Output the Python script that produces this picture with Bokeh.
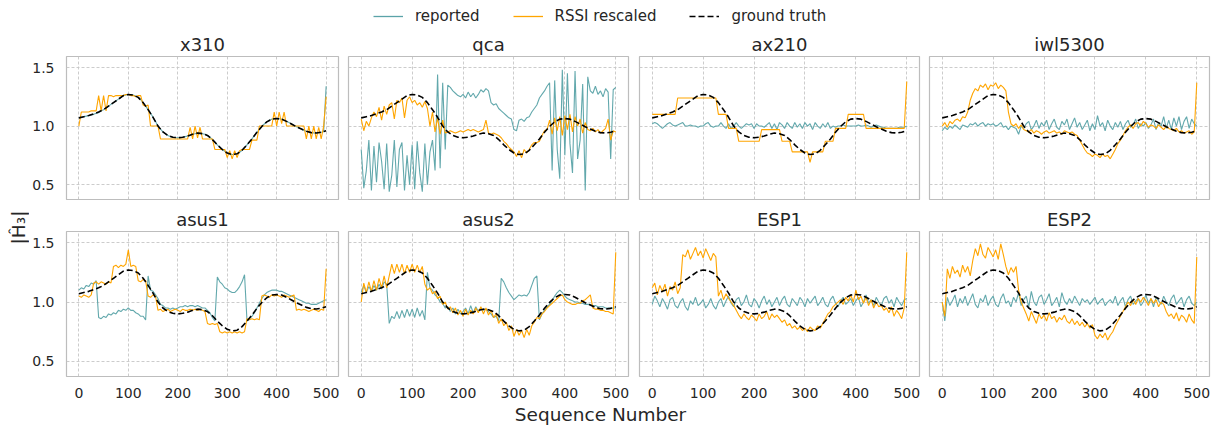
import math
from bokeh.plotting import figure
from bokeh.layouts import column, row
from bokeh.models import Range1d, Legend, LegendItem, Label, FixedTicker, PrintfTickFormatter
from bokeh.embed import file_html
from bokeh.resources import INLINE

# sequence numbers: noisy device series sampled every 5, ground truth every 10
seq5 = list(range(0, 501, 5))
seq10 = list(range(0, 501, 10))

x_ticks = [0, 100, 200, 300, 400, 500]
y_ticks = [0.5, 1.0, 1.5]

ground_truth = [
    1.07, 1.08, 1.09, 1.105, 1.12, 1.14, 1.17, 1.2, 1.23, 1.26,
    1.27, 1.265, 1.245, 1.2, 1.14, 1.075, 1.0, 0.95, 0.92, 0.905,
    0.9, 0.905, 0.915, 0.93, 0.94, 0.935, 0.92, 0.885, 0.84, 0.8,
    0.77, 0.757, 0.763, 0.793, 0.84, 0.89, 0.947, 0.997, 1.036, 1.059,
    1.064, 1.059, 1.04, 1.017, 0.994, 0.975, 0.955, 0.944, 0.941, 0.947,
    0.961]

x310_reported = [
    1.07, 1.075, 1.08, 1.085, 1.09, 1.095, 1.1, 1.11, 1.115, 1.13,
    1.14, 1.155, 1.17, 1.185, 1.2, 1.215, 1.23, 1.245, 1.26, 1.265,
    1.27, 1.27, 1.265, 1.255, 1.245, 1.225, 1.2, 1.17, 1.14, 1.11,
    1.075, 1.04, 1.0, 0.975, 0.95, 0.935, 0.92, 0.91, 0.905, 0.9,
    0.9, 0.9, 0.905, 0.91, 0.915, 0.92, 0.93, 0.935, 0.94, 0.94,
    0.935, 0.93, 0.92, 0.905, 0.885, 0.865, 0.84, 0.82, 0.8, 0.785,
    0.77, 0.762, 0.757, 0.758, 0.763, 0.775, 0.793, 0.815, 0.84, 0.865,
    0.89, 0.92, 0.947, 0.972, 0.997, 1.018, 1.036, 1.05, 1.059, 1.062,
    1.064, 1.063, 1.059, 1.05, 1.04, 1.03, 1.017, 1.005, 0.994, 0.985,
    0.975, 0.965, 0.955, 0.95, 0.944, 0.942, 0.941, 0.943, 0.947, 0.952,
    1.34]
x310_rssi = [
    1.0, 1.12, 1.12, 1.12, 1.12, 1.13, 1.13, 1.13, 1.26, 1.13,
    1.26, 1.13, 1.26, 1.26, 1.25, 1.26, 1.26, 1.26, 1.26, 1.27,
    1.27, 1.26, 1.26, 1.25, 1.26, 1.26, 1.18, 1.17, 1.18, 1.0,
    1.0, 1.0, 1.0, 0.89, 0.89, 0.89, 0.89, 0.89, 0.89, 0.89,
    0.89, 0.89, 0.89, 0.89, 0.89, 0.99, 0.89, 1.0, 0.9, 0.99,
    0.89, 0.89, 0.89, 0.89, 0.89, 0.8, 0.8, 0.8, 0.8, 0.8,
    0.73, 0.79, 0.72, 0.79, 0.73, 0.79, 0.8, 0.8, 0.8, 0.8,
    0.88, 0.88, 0.88, 1.0, 1.0, 1.0, 1.0, 1.0, 1.0, 1.12,
    1.0, 1.12, 1.02, 1.12, 1.0, 1.0, 1.0, 1.0, 1.0, 1.0,
    1.0, 1.0, 0.89, 1.0, 0.89, 1.0, 0.89, 0.99, 0.89, 1.0,
    1.25]

qca_reported = [
    0.8, 0.47, 0.62, 0.88, 0.45, 0.83, 0.52, 0.86, 0.7, 0.46,
    0.85, 0.44, 0.58, 0.88, 0.48, 0.8, 0.86, 0.45, 0.75, 0.5,
    0.84, 0.46, 0.87, 0.6, 0.44, 0.85, 0.5, 0.78, 0.88, 0.62,
    1.44, 0.64, 1.37, 0.8, 1.35, 1.33, 1.3, 1.28, 1.26, 1.25,
    1.27, 1.24, 1.29, 1.25, 1.28, 1.24, 1.27, 1.31, 1.29, 1.32,
    1.3, 1.2, 1.18, 1.19, 1.15, 1.13, 1.11, 1.09, 1.07, 1.06,
    0.97, 0.96, 1.05, 1.06, 1.04, 1.07, 1.08, 1.12, 1.15, 1.18,
    1.24, 1.27, 1.3, 1.34, 1.37, 0.62, 1.39, 0.8, 0.55, 1.48,
    0.75, 1.45, 0.85, 0.6, 1.47, 0.72, 0.88, 1.36, 0.45, 1.42,
    1.3, 1.28, 1.34, 1.27, 1.3, 1.25, 1.32, 1.29, 0.72, 1.31,
    1.33]
qca_rssi = [
    1.06, 0.96, 1.04, 1.0, 1.07, 1.12, 1.08, 1.16, 1.05, 1.17,
    1.1, 1.18, 1.2, 1.06, 1.22, 1.2, 1.24, 1.07, 1.22, 1.25,
    1.2, 1.22, 1.18, 1.2, 1.16, 1.21, 1.15, 1.0, 1.12, 0.95,
    1.07, 0.93, 1.05, 0.94, 0.95, 0.96, 0.95, 0.94, 0.95, 0.96,
    0.95, 0.96, 0.97, 0.96, 0.97, 0.96, 0.95, 0.96, 0.97, 1.05,
    0.94, 0.93, 0.94, 0.93, 0.92, 0.9, 0.87, 0.85, 0.82, 0.8,
    0.78, 0.74, 0.79, 0.73, 0.8, 0.77, 0.8, 0.84, 0.86, 0.86,
    0.87, 0.92, 0.96, 0.97, 1.05, 0.93, 1.07, 0.96, 1.08, 0.92,
    1.09, 0.97, 1.1, 0.95, 1.08, 1.0, 1.06, 0.94, 1.03, 0.97,
    0.96, 0.98, 0.95, 0.97, 0.94, 0.96, 0.98, 1.06, 0.88, 0.96,
    0.95]

ax210_reported = [
    1.02, 1.03, 1.02, 1.0, 0.98, 1.0, 1.02, 1.03, 1.01, 1.0,
    1.01, 1.02, 1.03, 1.0, 1.0, 1.01, 1.0, 1.0, 0.99, 1.0,
    1.0, 1.02, 1.03, 1.0, 0.99, 1.0, 1.0, 1.03, 1.0, 0.98,
    1.02, 0.98, 1.0, 1.03, 1.0, 0.98, 1.0, 1.02, 1.01, 1.02,
    0.98, 1.02, 1.0, 1.0, 0.99, 1.01, 1.03, 0.98, 1.02, 0.97,
    1.03, 1.01, 0.98, 1.03, 1.0, 0.98, 1.03, 0.99, 1.02, 0.98,
    1.03, 1.0, 1.02, 0.97, 1.03, 1.0, 0.98, 1.02, 0.99, 1.03,
    0.98, 1.0, 0.99, 1.0, 1.0, 1.01, 1.0, 1.0, 1.0, 1.0,
    1.0, 1.01, 1.0, 1.0, 1.01, 1.0, 0.99, 1.0, 1.01, 1.0,
    0.99, 0.99, 0.98, 0.98, 0.98, 0.98, 0.98, 0.99, 0.99, 0.99,
    1.0]
ax210_rssi = [
    1.1, 1.1, 1.1, 1.1, 1.1, 1.1, 1.1, 1.1, 1.1, 1.1,
    1.24, 1.24, 1.24, 1.24, 1.24, 1.24, 1.24, 1.24, 1.24, 1.24,
    1.24, 1.24, 1.24, 1.24, 1.24, 1.24, 1.1, 1.1, 1.1, 1.1,
    0.98, 0.98, 0.98, 0.98, 0.87, 0.87, 0.87, 0.87, 0.87, 0.87,
    0.87, 0.87, 0.87, 0.97, 0.97, 0.97, 0.97, 0.97, 0.97, 0.97,
    0.97, 0.87, 0.87, 0.87, 0.87, 0.78, 0.78, 0.78, 0.78, 0.78,
    0.78, 0.78, 0.69, 0.78, 0.78, 0.78, 0.78, 0.78, 0.87, 0.87,
    0.87, 0.87, 0.98, 0.98, 0.98, 0.98, 0.98, 1.1, 1.1, 1.1,
    1.1, 1.1, 1.1, 1.1, 0.98, 0.98, 0.98, 0.98, 0.98, 0.98,
    0.98, 0.98, 0.98, 0.98, 0.98, 0.98, 0.98, 0.98, 0.98, 0.98,
    1.38]

iwl5300_reported = [
    0.96, 0.99, 0.97, 1.0, 0.98, 1.01, 0.99, 0.97, 1.01, 1.0,
    0.99, 1.02, 1.01, 1.03, 1.0, 1.02, 1.03, 1.0, 1.02, 1.01,
    1.02, 1.0, 1.01, 1.03, 0.99, 1.0, 0.97, 1.0, 0.99, 0.98,
    0.93, 1.0, 0.98, 1.02, 1.04, 0.97, 1.0, 1.05, 0.98, 1.03,
    1.0, 1.05, 0.97, 1.02, 1.06, 0.99, 0.97, 1.04, 1.01, 1.06,
    0.97, 1.02, 1.07, 0.99, 1.03, 0.97, 1.01, 1.05, 0.96, 1.02,
    0.97, 1.09, 1.0, 1.03, 0.96, 1.05, 1.0, 0.97, 1.03, 0.99,
    1.04, 0.97, 1.02, 1.05, 0.99, 1.01, 1.06, 0.98, 1.02, 1.0,
    1.03, 0.98, 1.01, 1.06, 0.97, 1.03, 1.0, 1.08, 0.98, 1.05,
    0.97, 1.07, 1.0, 1.08, 0.97, 1.04, 1.08, 0.98, 1.06, 1.02,
    1.0]
iwl5300_rssi = [
    1.0, 1.03, 0.99, 1.04, 1.02, 1.05, 1.06, 1.04, 1.08, 1.07,
    1.12, 1.22, 1.28, 1.32, 1.3, 1.35, 1.33, 1.36, 1.31, 1.35,
    1.34, 1.37, 1.32, 1.35, 1.33, 1.3, 1.12, 1.02, 1.0, 1.02,
    0.98, 1.01, 0.97, 0.96, 0.95, 0.97, 0.94, 0.96, 0.95, 0.93,
    0.95, 0.96, 0.94, 0.95, 0.96, 0.94, 0.95, 0.93, 0.96, 0.95,
    0.94, 0.95, 0.93, 0.92, 0.88, 0.84, 0.8, 0.77, 0.76, 0.74,
    0.76, 0.75, 0.73, 0.76, 0.74, 0.75, 0.72, 0.76, 0.8, 0.85,
    0.88, 0.92, 0.96, 0.99, 1.01, 0.98, 1.02, 1.03, 1.0, 1.04,
    1.02, 0.99, 1.01, 1.0, 0.98, 1.01, 0.99, 0.97, 1.0, 0.98,
    0.97, 0.96, 0.98, 0.95, 0.96, 0.94, 0.95, 0.96, 0.93, 0.95,
    1.37]

asus1_reported = [
    1.1, 1.12, 1.11, 1.14, 1.13, 1.16, 1.15, 1.18, 0.87, 0.86,
    0.88, 0.87, 0.9, 0.89, 0.91, 0.9, 0.93, 0.92, 0.94, 0.93,
    0.95, 0.93, 0.93, 0.91, 0.9, 0.88, 0.88, 0.85, 1.22, 1.1,
    1.09, 1.06, 1.03, 0.98, 0.97, 0.95, 0.95, 0.94, 0.95, 0.94,
    0.95, 0.96, 0.96, 0.97, 0.96, 0.97, 0.97, 0.96, 0.97, 0.96,
    0.95, 0.95, 0.93, 0.91, 0.87, 0.84, 1.21, 1.17, 1.15, 1.12,
    1.11, 1.09, 1.08, 1.08, 1.1, 1.13, 1.17, 1.23, 0.84, 0.86,
    0.88, 0.91, 0.95, 0.99, 1.03, 1.06, 1.08, 1.09, 1.1, 1.1,
    1.1, 1.09, 1.09, 1.08, 1.07, 1.06, 1.05, 1.04, 1.03, 1.02,
    1.01, 1.0, 0.99, 0.99, 0.98, 0.98, 0.98, 0.99, 1.0, 1.01,
    1.02]
asus1_rssi = [
    1.05, 1.04, 1.06, 1.05, 1.04, 1.06, 1.16, 1.17, 1.15, 1.17,
    1.16, 1.15, 1.17, 1.16, 1.3, 1.31, 1.29, 1.31, 1.3, 1.32,
    1.44, 1.3, 1.31, 1.3, 1.18, 1.17, 1.19, 1.18, 1.05, 1.04,
    1.06, 1.05, 0.93, 0.94, 0.92, 0.93, 0.94, 0.92, 0.93, 0.94,
    0.93, 0.92, 0.94, 0.93, 0.93, 0.94, 0.93, 0.94, 0.93, 0.94,
    0.93, 0.92, 0.82, 0.81, 0.82, 0.81, 0.82, 0.75, 0.74, 0.75,
    0.74, 0.75, 0.74, 0.75, 0.74, 0.75, 0.74, 0.75, 0.86, 0.85,
    0.86, 0.85, 0.86, 0.85, 1.05, 1.06, 1.05, 1.04, 1.06, 1.05,
    1.06, 1.05, 1.04, 1.06, 1.05, 1.04, 1.05, 1.06, 0.93, 0.94,
    0.93, 0.94, 0.93, 0.92, 0.93, 0.94, 0.93, 0.92, 0.94, 0.93,
    1.28]

asus2_reported = [
    1.08, 1.14, 1.08, 1.13, 1.09, 1.14, 1.1, 1.15, 1.11, 1.17,
    1.15, 0.82, 0.88, 0.86, 0.92, 0.86, 0.93, 0.87, 0.94, 0.88,
    0.94, 0.87, 0.95, 0.88, 0.93, 0.85, 1.25, 1.12, 1.1, 1.06,
    1.04, 1.0, 0.99, 0.95, 0.96, 0.92, 0.95, 0.9, 0.94, 0.9,
    0.92, 0.95, 0.9, 0.97, 0.91, 0.96, 0.92, 0.95, 0.93, 0.94,
    0.92, 0.9, 0.87, 0.88, 0.84, 1.2, 1.17, 1.12, 1.08, 1.05,
    1.02, 1.04, 1.06, 1.05, 1.06, 1.05, 1.08, 1.14, 1.2, 1.22,
    0.85, 0.9, 0.93, 0.96, 0.98, 1.01, 1.05, 1.08, 1.1, 1.08,
    1.05, 1.03, 1.02, 1.01, 1.0, 1.0, 0.99, 0.99, 0.98, 0.98,
    0.98, 0.97, 0.97, 0.96, 0.96, 0.96, 0.95, 0.95, 0.95, 0.95,
    0.95]
asus2_rssi = [
    1.0, 1.16, 1.08, 1.17, 1.09, 1.18, 1.1, 1.2, 1.12, 1.22,
    1.12, 1.22, 1.32, 1.24, 1.32, 1.25, 1.32, 1.24, 1.31, 1.25,
    1.32, 1.25, 1.31, 1.25, 1.3, 1.15, 1.1, 1.12, 1.07, 1.09,
    1.03, 1.05, 0.98, 1.0, 0.94, 0.96, 0.91, 0.95, 0.89, 0.93,
    0.88, 0.94, 0.89, 0.93, 0.9, 0.95, 0.91, 0.96, 0.9, 0.95,
    0.89, 0.93, 0.87, 0.9, 0.82, 0.86, 0.8, 0.83, 0.76, 0.8,
    0.71, 0.77, 0.72, 0.76, 0.7, 0.77, 0.72, 0.8, 0.83, 0.87,
    0.86, 0.9, 0.92, 0.95, 0.97, 0.99, 1.01, 1.03, 1.05, 1.06,
    1.02, 1.0, 0.99, 0.98, 0.98, 0.99, 0.99, 1.01, 1.02, 1.04,
    1.06, 0.95, 0.94, 0.94, 0.93, 0.93, 0.92, 0.92, 0.91, 0.9,
    1.42]

esp1_reported = [
    0.98, 1.05, 1.01, 0.96, 1.03, 0.99, 0.94, 1.02, 1.04, 0.97,
    0.95, 1.0, 1.03, 0.96, 0.93, 1.01, 0.98, 1.04, 0.97, 0.99,
    1.02, 0.95, 0.98, 1.03, 0.97, 0.94, 1.0, 1.03, 0.96, 1.01,
    1.05, 0.99, 0.96, 1.02, 1.04, 0.97, 1.0, 1.06, 0.98, 0.96,
    1.03, 1.0, 0.95, 1.01, 1.05, 0.98, 1.02, 0.96, 1.0, 1.04,
    0.97, 1.02, 1.05, 0.98, 0.96, 1.03, 1.0, 0.97, 1.04, 1.01,
    0.96, 1.03, 0.99, 1.02, 1.05, 0.97, 1.0, 1.04, 0.98, 0.96,
    1.02, 1.05, 0.99, 0.96, 1.01, 1.04, 0.98, 1.0, 1.03, 0.97,
    1.01, 1.04, 0.96, 1.0, 1.06, 0.99, 1.02, 0.97, 1.04, 1.0,
    0.97, 1.03, 1.05, 0.99, 1.02, 0.96, 1.04, 1.0, 0.97, 1.02,
    1.03]
esp1_rssi = [
    1.12, 1.16, 1.06, 1.14, 1.09, 1.15, 1.05, 1.13, 1.1, 1.17,
    1.07, 1.12, 1.4, 1.38, 1.44, 1.36, 1.41, 1.46, 1.39, 1.43,
    1.37, 1.45, 1.4, 1.35, 1.41, 1.38, 1.05, 1.1, 1.02, 1.07,
    1.03, 1.0, 0.97, 0.93, 0.89, 0.86, 0.9, 0.87, 0.85, 0.89,
    0.87, 0.84, 0.9, 0.86, 0.88, 0.92, 0.85, 0.9, 0.87, 0.89,
    0.86, 0.83, 0.85, 0.8, 0.82, 0.78, 0.8, 0.77, 0.79, 0.76,
    0.78, 0.75, 0.79, 0.77, 0.76, 0.8, 0.78, 0.82, 0.86, 0.9,
    0.92, 0.96, 0.98, 1.0, 1.02, 0.98, 1.04, 1.01, 1.06, 1.0,
    1.1, 1.02, 1.05, 0.99, 1.04, 0.97, 1.02, 0.95, 1.0, 0.96,
    0.97, 0.93, 0.95, 0.91, 0.96, 0.88, 0.93, 0.9, 0.86, 0.95,
    1.42]

esp2_reported = [
    1.0, 0.84, 1.04, 0.97, 1.01, 1.06, 0.96, 1.03, 0.99, 1.05,
    0.97, 1.02, 1.07, 0.98, 0.95, 1.03, 1.0, 1.06, 0.97, 1.02,
    1.05, 0.98, 0.96, 1.03, 1.07, 0.99, 1.01, 0.96, 1.04, 1.0,
    1.08, 0.97, 1.02, 1.05, 0.96, 1.09, 1.0, 0.97, 1.04, 1.06,
    0.98, 1.02, 1.07, 0.97, 1.0, 1.04, 0.96, 1.08, 1.01, 0.98,
    1.03, 0.99, 1.05, 1.01, 0.97, 1.03, 1.0, 1.02, 0.98, 1.01,
    1.04, 0.98, 1.01, 1.03, 0.97, 1.0, 1.02, 0.99, 1.05, 0.97,
    1.01, 1.04, 0.96, 1.02, 1.05, 0.98, 1.01, 1.03, 0.97, 1.0,
    1.06, 0.99, 1.03, 0.96, 1.04, 1.01, 0.98, 1.05, 1.0, 0.97,
    1.03, 1.06, 0.98, 1.01, 1.04, 0.96, 1.02, 1.05, 0.99, 0.97,
    1.0]
esp2_rssi = [
    1.0, 0.88, 1.28, 1.2, 1.3, 1.24, 1.27, 1.21, 1.31, 1.25,
    1.3, 1.22, 1.35, 1.45, 1.39, 1.49, 1.4, 1.37, 1.46, 1.42,
    1.38, 1.44, 1.36, 1.49, 1.4, 1.3, 1.23, 1.29, 1.25, 1.3,
    1.1, 1.0, 0.95, 0.9, 0.84, 0.92, 0.87, 0.82, 0.9, 0.86,
    0.89, 0.84, 0.91, 0.86, 0.88, 0.83, 0.87, 0.85, 0.89, 0.84,
    0.82, 0.86, 0.81, 0.84, 0.8, 0.83, 0.79, 0.82, 0.78, 0.81,
    0.72, 0.69, 0.73, 0.7, 0.74, 0.68, 0.72, 0.75, 0.8, 0.84,
    0.88, 0.92, 0.96, 1.0, 0.97, 1.02, 0.98, 1.03, 1.0, 1.04,
    1.01, 0.97, 1.03, 0.99, 1.02, 0.96, 1.0, 0.98, 0.92, 0.88,
    0.9, 0.86, 0.91, 0.84, 0.89, 0.87, 0.83, 0.9, 0.85, 0.82,
    1.38]

device_names = ["x310", "qca", "ax210", "iwl5300", "asus1", "asus2", "ESP1", "ESP2"]
reported_series = [x310_reported, qca_reported, ax210_reported, iwl5300_reported,
                   asus1_reported, asus2_reported, esp1_reported, esp2_reported]
rssi_series = [x310_rssi, qca_rssi, ax210_rssi, iwl5300_rssi,
               asus1_rssi, asus2_rssi, esp1_rssi, esp2_rssi]

TEAL = "#5aa3a8"
ORANGE = "#ffa500"
TEXT = "#262626"
FONT = "DejaVu Sans"

x_range = Range1d(-25, 525)
y_range = Range1d(0.373, 1.594)

# per-column canvas widths and borders (frames are 280 px wide)
col_width = [314, 290, 291, 298]
col_left = [29, 5, 6, 5]
col_right = [5, 5, 5, 13]


def make_panel(idx):
    r, c = divmod(idx, 4)
    top = r == 0
    p = figure(width=col_width[c], height=170 if top else 200,
               x_range=x_range, y_range=y_range,
               output_backend="svg", toolbar_location=None,
               min_border_left=col_left[c], min_border_right=col_right[c],
               min_border_top=23 if top else 31,
               min_border_bottom=1 if top else 23,
               title=device_names[idx])
    p.title.align = "center"
    p.title.text_font = FONT
    p.title.text_font_size = "18px"
    p.title.text_font_style = "normal"
    p.title.text_color = TEXT
    p.title.standoff = 3

    p.outline_line_color = "#bdbdbd"
    p.outline_line_width = 1.2
    p.background_fill_color = "white"
    p.border_fill_color = "white"

    for ax in (p.xaxis, p.yaxis):
        ax.axis_line_color = None
        ax.major_tick_line_color = None
        ax.minor_tick_line_color = None
        ax.major_label_text_font = FONT
        ax.major_label_text_font_size = "14px"
        ax.major_label_text_color = TEXT
    p.xaxis.ticker = FixedTicker(ticks=x_ticks)
    p.yaxis.ticker = FixedTicker(ticks=y_ticks)
    p.yaxis.formatter = PrintfTickFormatter(format="%.1f")
    p.xaxis.major_label_standoff = 5
    p.yaxis.major_label_standoff = 6
    p.xaxis.visible = not top
    p.yaxis.visible = c == 0

    p.grid.grid_line_color = "#c6c6c6"
    p.grid.grid_line_dash = "3 2"
    p.grid.grid_line_width = 0.9

    p.line(seq5, reported_series[idx], color=TEAL, line_width=1.1, line_alpha=0.95)
    p.line(seq5, rssi_series[idx], color=ORANGE, line_width=1.1)
    p.line(seq10, ground_truth, color="black", line_width=1.6, line_dash="6 3")
    return p


panels = [make_panel(i) for i in range(8)]


def blank(width, height, xr=(0, 1), yr=(0, 1)):
    f = figure(width=width, height=height, output_backend="svg", toolbar_location=None,
               x_axis_location=None, y_axis_location=None, min_border=0,
               outline_line_color=None, x_range=Range1d(*xr), y_range=Range1d(*yr))
    f.grid.visible = False
    return f


# legend strip: the key lines sit outside the strip's visible range
leg_fig = blank(1222, 30, xr=(-100, -99), yr=(-100, -99))
r_rep = leg_fig.line(seq5, x310_reported, color=TEAL, line_width=1.3)
r_rssi = leg_fig.line(seq5, x310_rssi, color=ORANGE, line_width=1.3)
r_gt = leg_fig.line(seq10, ground_truth, color="black", line_width=1.6, line_dash="6 3")
legend = Legend(items=[LegendItem(label="reported", renderers=[r_rep]),
                       LegendItem(label="RSSI rescaled", renderers=[r_rssi]),
                       LegendItem(label="ground truth", renderers=[r_gt])],
                orientation="horizontal", location=(373, 5),
                glyph_width=30, glyph_height=18, label_standoff=12, spacing=33,
                padding=0, margin=0, border_line_alpha=0, background_fill_alpha=0,
                label_text_font=FONT, label_text_font_size="15px",
                label_text_color=TEXT)
leg_fig.add_layout(legend)

# shared y label
ylab_fig = blank(29, 370)
ylab_fig.add_layout(Label(x=18, y=173, x_units="screen", y_units="screen",
                          text="|Ĥ₃|", angle=math.pi / 2, text_align="center",
                          text_baseline="middle", text_font=FONT,
                          text_font_size="18.5px", text_color=TEXT))

# shared x label
xlab_fig = blank(1222, 29)
xlab_fig.add_layout(Label(x=600, y=15, x_units="screen", y_units="screen",
                          text="Sequence Number", text_align="center",
                          text_baseline="middle", text_font=FONT,
                          text_font_size="18.5px", text_color=TEXT))

grid = column(row(*panels[:4]), row(*panels[4:]))
layout = column(leg_fig, row(ylab_fig, grid), xlab_fig)

open("out.html", "w").write(file_html(layout, INLINE))
